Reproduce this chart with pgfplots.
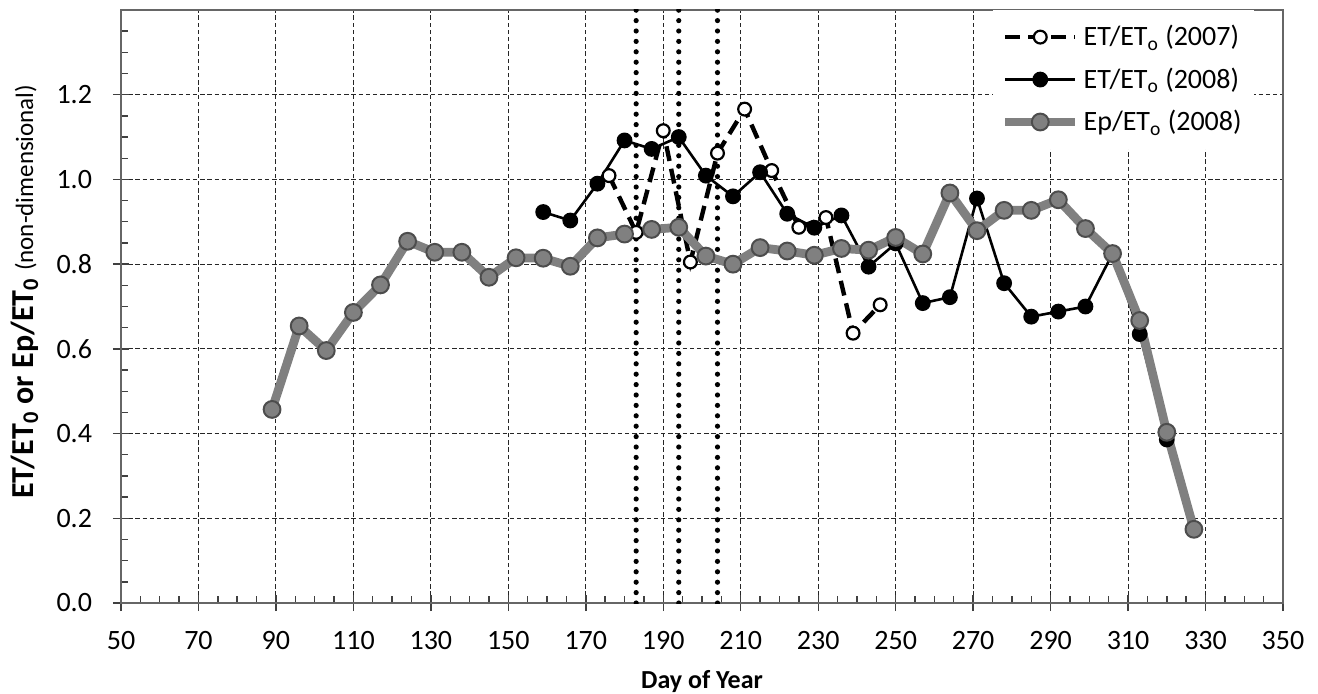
\documentclass[border=0pt]{standalone}
\usepackage{fontspec}
\setmainfont{Carlito}
\usepackage{pgfplots}
\pgfplotsset{compat=1.18}

\definecolor{epgray}{HTML}{808080}
\definecolor{epedge}{HTML}{4D4D4D}

\begin{document}
\begin{tikzpicture}
\useasboundingbox (-60.5bp,-45.5bp) rectangle (598.5bp,301.5bp);
\begin{axis}[
  at={(0,0)}, anchor=south west,
  scale only axis, width=581bp, height=296.5bp,
  xmin=50, xmax=350, ymin=0, ymax=1.4,
  xtick={50,70,...,350}, minor x tick num=3,
  ytick={0,0.2,0.4,0.6,0.8,1.0,1.2},
  minor ytick={0.05,0.1,0.15,0.25,0.3,0.35,0.45,0.5,0.55,0.65,0.7,0.75,0.85,0.9,0.95,1.05,1.1,1.15,1.25,1.3,1.35},
  tick pos=left,
  tick align=center,
  major tick length=8bp, minor tick length=3.5bp,
  minor x tick style={yshift=1.75bp},
  minor y tick style={xshift=1.75bp},
  tick style={black!75, line width=0.7bp},
  axis line style={black!60, line width=0.8bp},
  grid=major,
  major grid style={black!85, line width=0.55bp, dash pattern=on 2.2bp off 1.4bp},
  /pgf/number format/assume math mode=true,
  ticklabel style={font=\fontsize{14bp}{16bp}\selectfont},
  yticklabel style={/pgf/number format/.cd, fixed, fixed zerofill, precision=1, /tikz/.cd, xshift=-7bp},
  xticklabel style={/pgf/number format/.cd, 1000 sep={}, /tikz/.cd, yshift=-6.5bp},
  xlabel={Day of Year},
  xlabel style={font=\fontsize{13bp}{15bp}\selectfont\bfseries,
    at={(axis description cs:0.5,0)}, anchor=base, yshift=-42.5bp},
  ylabel={\fontsize{16bp}{18bp}\selectfont\bfseries ET/ET\textsubscript{0} or Ep/ET\textsubscript{0} {\mdseries\fontsize{12.5bp}{14bp}\selectfont (non-dimensional)}},
  ylabel style={at={(axis description cs:-0.0757,0.525)}, anchor=base},
  legend style={at={(axis description cs:0.975,1)}, anchor=north east,
    draw=none, fill=white, font=\fontsize{14bp}{16bp}\selectfont,
    row sep=5.5bp, inner xsep=4bp, inner ysep=5.5bp},
  legend cell align=left,
  legend image code/.code={%
    \draw[mark repeat=2, mark phase=2, #1] plot coordinates {(0bp,0bp) (17.5bp,0bp) (35bp,0bp)};},
]

% dates of the three vertical reference lines
\foreach \d in {183,194,204} {
  \edef\tmp{\noexpand\addplot[forget plot, black, line width=2.6bp, line cap=round,
    dash pattern=on 0bp off 5.2bp] coordinates {(\d,0) (\d,1.4)};}
  \tmp
}

% ET/ETo 2007
\addplot[black, line width=2.2bp, dash pattern=on 7.5bp off 4bp,
  mark=*, mark size=3.2bp,
  mark options={solid, fill=white, draw=black, line width=1.1bp}]
  coordinates {
  (176,1.009) (183,0.875) (190,1.115) (197,0.805) (204,1.062) (211,1.166)
  (218,1.021) (225,0.887) (232,0.910) (239,0.637) (246,0.704)
  };
\addlegendentry{ET/ET\textsubscript{o} (2007)}

% ET/ETo 2008
\addplot[black, line width=1.3bp, mark=*, mark size=3.3bp,
  mark options={solid, fill=black}]
  coordinates {
  (159,0.923) (166,0.903) (173,0.990) (180,1.092) (187,1.072) (194,1.100)
  (201,1.009) (208,0.960) (215,1.017) (222,0.919) (229,0.886) (236,0.915)
  (243,0.794) (250,0.849) (257,0.708) (264,0.722) (271,0.955) (278,0.755)
  (285,0.676) (292,0.688) (299,0.700) (306,0.825) (313,0.635) (320,0.386)
  };
\addlegendentry{ET/ET\textsubscript{o} (2008)}

% Ep/ETo 2008
\addplot[epgray, line width=4.4bp, mark=*, mark size=4.2bp,
  mark options={solid, fill=epgray, draw=epedge, line width=1bp}]
  coordinates {
  (89,0.457) (96,0.654) (103,0.596) (110,0.686) (117,0.751) (124,0.854)
  (131,0.828) (138,0.828) (145,0.769) (152,0.815) (159,0.814) (166,0.795)
  (173,0.862) (180,0.871) (187,0.882) (194,0.887) (201,0.819) (208,0.800)
  (215,0.839) (222,0.831) (229,0.821) (236,0.837) (243,0.833) (250,0.863)
  (257,0.824) (264,0.968) (271,0.879) (278,0.927) (285,0.927) (292,0.952)
  (299,0.884) (306,0.825) (313,0.667) (320,0.403) (327,0.174)
  };
\addlegendentry{Ep/ET\textsubscript{o} (2008)}

\end{axis}
\end{tikzpicture}
\end{document}
